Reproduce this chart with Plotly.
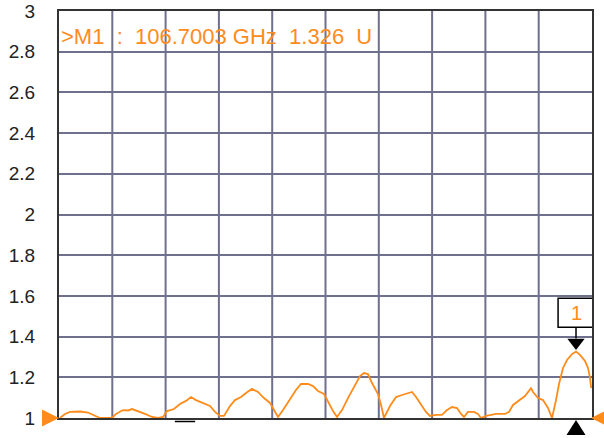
import plotly.graph_objects as go

# Trace data (frequency in GHz, magnitude in U)
freq_ghz = [0.2, 1.24, 2.27, 4.33, 5.99, 7.43, 8.46, 10.94, 11.76, 13.2, 14.24, 15.07, 16.3, 17.75,
            19.19, 20.43, 21.46, 22.29, 23.73, 24.97, 26.2, 27.24, 28.27, 29.72, 31.16, 32.2, 33.23,
            34.05, 35.29, 36.32, 37.56, 38.59, 39.83, 41.07, 42.31, 43.55, 44.17, 45.2, 46.23, 47.67,
            48.91, 49.94, 51.39, 52.42, 53.45, 54.69, 55.52, 56.55, 57.37, 58.41, 59.64, 61.09, 62.12,
            62.95, 63.77, 64.6, 65.84, 66.46, 67.07, 68.31, 69.55, 70.79, 72.03, 72.85, 73.68, 74.71,
            75.74, 76.57, 77.8, 79.04, 80.08, 81.11, 82.14, 82.97, 83.58, 84.41, 85.65, 86.47, 87.09,
            88.12, 88.95, 90.19, 92.05, 92.87, 93.7, 94.94, 96.17, 97.41, 97.83, 98.86, 99.89, 100.92,
            101.75, 102.57, 103.19, 104.02, 104.84, 105.87, 106.7, 107.52, 108.56, 109.18, 109.59,
            109.8, 110.0]
magnitude = [1.0, 1.02, 1.03, 1.032, 1.027, 1.01, 1.0, 1.0, 1.02, 1.039, 1.037, 1.044, 1.034, 1.02,
             1.005, 1.0, 1.005, 1.034, 1.044, 1.069, 1.084, 1.103, 1.088, 1.074, 1.059, 1.03, 1.01,
             1.01, 1.059, 1.088, 1.103, 1.123, 1.143, 1.128, 1.098, 1.074, 1.049, 1.005, 1.039, 1.093,
             1.138, 1.167, 1.167, 1.157, 1.133, 1.118, 1.079, 1.034, 1.005, 1.039, 1.098, 1.157, 1.206,
             1.221, 1.216, 1.172, 1.118, 1.064, 1.0, 1.059, 1.103, 1.113, 1.123, 1.128, 1.103, 1.069,
             1.03, 1.01, 1.015, 1.015, 1.039, 1.054, 1.049, 1.02, 1.005, 1.03, 1.03, 1.02, 1.0,
             1.01, 1.015, 1.02, 1.02, 1.03, 1.064, 1.088, 1.108, 1.147, 1.128, 1.098, 1.088, 1.049,
             1.0, 1.088, 1.167, 1.246, 1.285, 1.314, 1.326, 1.31, 1.28, 1.246, 1.197,
             1.152, 1.15]

# Marker M1
marker_freq = 106.7003
marker_val = 1.326
marker_label = "1"

# Axes
x_range = [0, 110]
y_range = [1, 3]
y_ticks = [1, 1.2, 1.4, 1.6, 1.8, 2, 2.2, 2.4, 2.6, 2.8, 3]
y_ticktext = ["1", "1.2", "1.4", "1.6", "1.8", "2", "2.2", "2.4", "2.6", "2.8", "3"]
x_gridvals = [0, 11, 22, 33, 44, 55, 66, 77, 88, 99, 110]

ORANGE = "#FF8C1A"
GRID = "#6F6F8E"
FRAME = "#333333"
FONT = "Liberation Sans, Arial, sans-serif"

fig = go.Figure()

fig.add_trace(go.Scatter(x=freq_ghz, y=magnitude, mode="lines",
                         line=dict(color=ORANGE, width=1.8), hoverinfo="skip",
                         showlegend=False))

# Marker triangle above the peak (black)
fig.add_trace(go.Scatter(x=[marker_freq], y=[marker_val + 0.045], mode="markers",
                         marker=dict(symbol="triangle-down", size=15, color="black"),
                         cliponaxis=False, showlegend=False, hoverinfo="skip"))

shapes = []
# vertical grid lines
for gx in x_gridvals[1:-1]:
    shapes.append(dict(type="line", x0=gx, x1=gx, y0=y_range[0], y1=y_range[1],
                       xref="x", yref="y", line=dict(color=GRID, width=2), layer="below"))
# reference-level triangles (orange) at the bottom reference line, both sides
shapes.append(dict(type="path", xref="paper", yref="paper", xsizemode="pixel", ysizemode="pixel",
                   xanchor=0, yanchor=0, path="M -17,-8.5 L 0,0 L -17,8.5 Z",
                   fillcolor=ORANGE, line=dict(width=0), layer="above"))
shapes.append(dict(type="path", xref="paper", yref="paper", xsizemode="pixel", ysizemode="pixel",
                   xanchor=1, yanchor=0, path="M -1,0 L 16,-8.5 L 16,8.5 Z",
                   fillcolor=ORANGE, line=dict(width=0), layer="above"))
# marker position triangle below axis (black)
shapes.append(dict(type="path", xref="x", yref="paper", xsizemode="pixel", ysizemode="pixel",
                   xanchor=marker_freq, yanchor=0, path="M 0,-2 L -9.5,-17 L 9.5,-17 Z",
                   fillcolor="black", line=dict(width=0), layer="above"))
# marker box and stem
shapes.append(dict(type="rect", x0=marker_freq - 3.7, x1=marker_freq + 3.7,
                   y0=marker_val + 0.12, y1=marker_val + 0.263, xref="x", yref="y",
                   line=dict(color="black", width=1.5), fillcolor="white", layer="above"))
shapes.append(dict(type="line", x0=marker_freq, x1=marker_freq,
                   y0=marker_val + 0.065, y1=marker_val + 0.12, xref="x", yref="y",
                   line=dict(color="black", width=1.5)))
# small dash below axis
shapes.append(dict(type="line", xref="x", yref="paper", ysizemode="pixel", yanchor=0,
                   x0=23.9, x1=28.1, y0=-3.5, y1=-3.5,
                   line=dict(color="black", width=1.5), layer="above"))

annotations = [
    dict(x=0, y=2.877, xref="x", yref="y", xanchor="left", yanchor="middle",
         text=">M1  :  %.4f GHz  %.3f  U" % (marker_freq, marker_val), showarrow=False,
         font=dict(family=FONT, size=22, color=ORANGE)),
    dict(x=marker_freq, y=marker_val + 0.19, xref="x", yref="y", xanchor="center",
         yanchor="middle", text=marker_label, showarrow=False,
         font=dict(family=FONT, size=20, color=ORANGE)),
]

fig.update_layout(
    width=604, height=438,
    margin=dict(l=59, r=12, t=11, b=20, autoexpand=False),
    paper_bgcolor="white", plot_bgcolor="white",
    shapes=shapes, annotations=annotations,
    xaxis=dict(range=x_range, showgrid=False, zeroline=False, showticklabels=False,
               showline=True, mirror=True, linecolor=FRAME, linewidth=2,
               automargin=False, fixedrange=True),
    yaxis=dict(range=y_range, tickvals=y_ticks, ticktext=y_ticktext, showgrid=True,
               gridcolor=GRID, gridwidth=2, zeroline=False,
               showline=True, mirror=True, linecolor=FRAME, linewidth=2,
               ticks="", ticklabelstandoff=18, automargin=False,
               tickfont=dict(family=FONT, size=19, color="#222222"), fixedrange=True),
    font=dict(family=FONT),
)

fig.write_html("out.html", config={"displayModeBar": False},
               post_script="document.body.style.margin='0';")
